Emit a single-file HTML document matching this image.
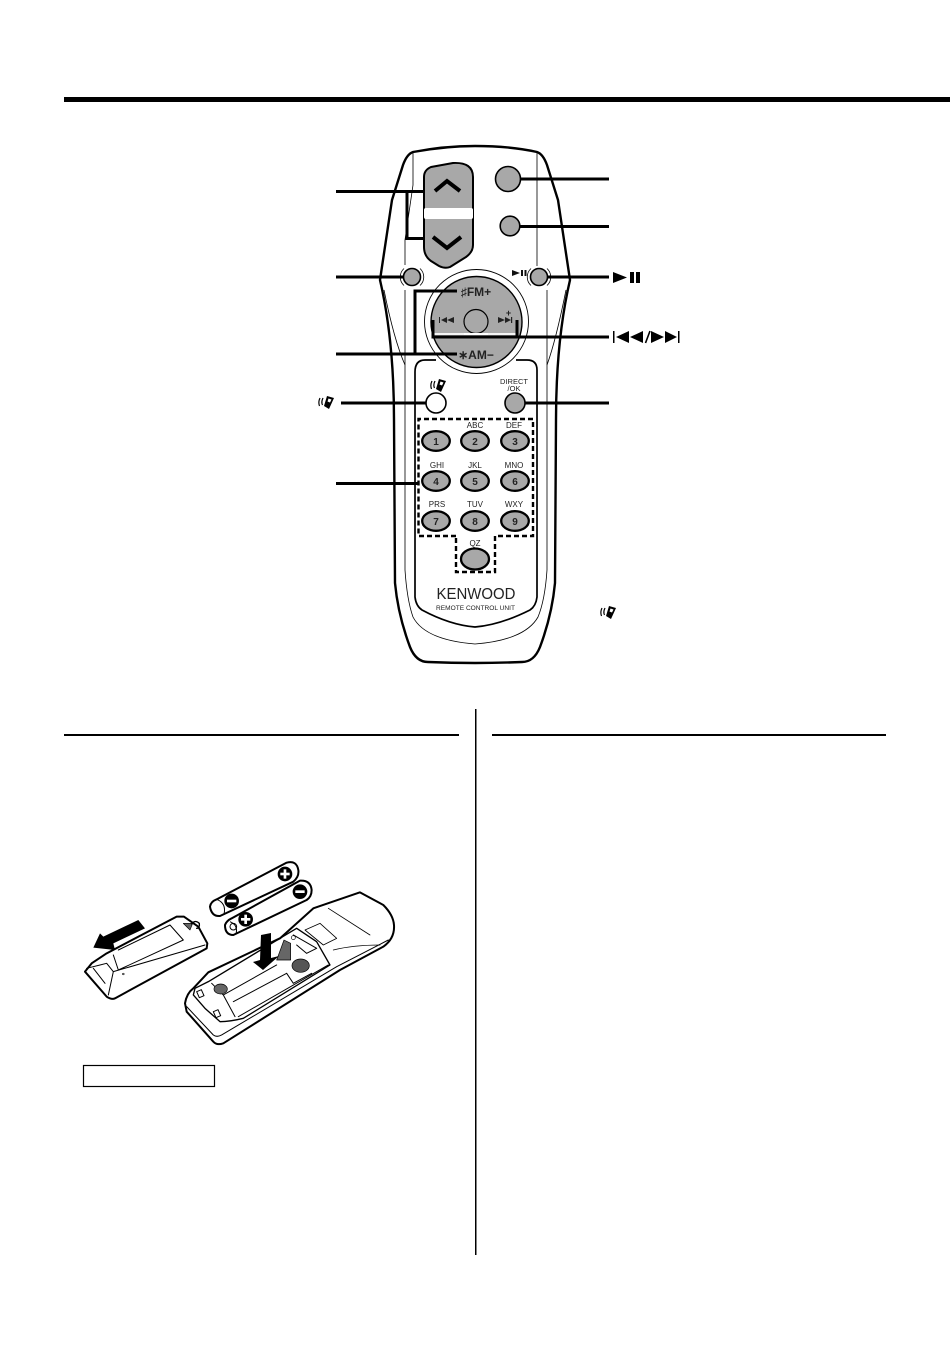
<!DOCTYPE html>
<html><head><meta charset="utf-8"><style>
html,body{margin:0;padding:0;background:#fff}
svg{display:block}
text{font-family:"Liberation Sans",sans-serif;fill:#222}
</style></head><body>
<svg xmlns="http://www.w3.org/2000/svg" width="950" height="1355" viewBox="0 0 950 1355">
<rect width="950" height="1355" fill="#fff"/>
<rect x="64" y="97" width="886" height="5" fill="#000"/>
<rect x="64" y="734" width="395" height="2" fill="#000"/>
<rect x="492" y="734" width="394" height="2" fill="#000"/>
<rect x="475" y="709" width="1.500" height="546" fill="#000"/>
<rect x="83.500" y="1065.500" width="131" height="21" fill="#fff" stroke="#000" stroke-width="1.200"/>

<!-- remote body -->
<g fill="none" stroke="#000">
<path d="M413 152 Q445 146 475 146 Q510 146 537 152 Q543 154 547 165 L558 200 L570 280 Q556 340 556 420 L555 583 Q552 615 540 647 Q534 662 522 662 Q475 664 428 662 Q416 662 410 647 Q398 615 395 583 L394 420 Q394 340 380 280 L392 200 L403 165 Q407 154 413 152Z" fill="#fff" stroke-width="2.400"/>
<path d="M413 153 L413 185 L405 240 L405 265 M537 153 L537 266 M405 290 L405 570 Q407 600 413 617 Q425 640 475 644 Q525 640 538 617 Q545 600 547 570 L547 290" stroke-width=".8"/>
<path d="M384 290 Q394 340 405 365 M566 290 Q556 340 547 365" stroke-width=".8"/>
<path d="M415 372 L415 597 Q416 606 422 610 Q450 625 475 627 Q500 625 530 610 Q536 606 537 597 L537 370 Q537 360 527 360 L516 360 M436 360 L425 360 Q415 360 415 372" stroke-width="1.700"/>
<path d="M404 268.500 A11.500 11.500 0 0 0 404 285.500 M420 268.500 A11.500 11.500 0 0 1 420 285.500 M531 268.500 A11.500 11.500 0 0 0 531 285.500 M547 268.500 A11.500 11.500 0 0 1 547 285.500" stroke-width=".8"/>
</g>

<!-- rocker -->
<path d="M424 177 Q424 170 431 167 L453 163 Q473 162 473 177 L473 245 Q473 252 466 257 L450 267 Q445 269 439 266 L431 261 Q424 256 424 247Z" fill="#a8a8a8" stroke="#000" stroke-width="2" stroke-linejoin="round"/>
<rect x="424" y="208" width="49" height="11" rx="2" fill="#fff"/>
<path d="M435 191 L447 181 L460 191" fill="none" stroke="#000" stroke-width="4"/>
<path d="M433 237 L447 248 L461 237" fill="none" stroke="#000" stroke-width="4"/>

<!-- round buttons -->
<g fill="#a8a8a8" stroke="#000" stroke-width="1.600">
<circle cx="508" cy="179" r="12.500"/>
<circle cx="510" cy="226" r="9.800"/>
<circle cx="412" cy="277" r="8.500"/>
<circle cx="539" cy="277" r="8.500"/>
</g>

<!-- d-pad -->
<circle cx="476.500" cy="321.500" r="52" fill="#fff" stroke="#000" stroke-width=".9"/>
<circle cx="476.500" cy="322" r="45.500" fill="#a8a8a8" stroke="#000" stroke-width="1.400"/>
<path d="M433 334 H518" stroke="#fff" stroke-width="1.800" fill="none"/>
<circle cx="476" cy="321.500" r="12" fill="#a8a8a8" stroke="#000" stroke-width="1.200"/>
<rect x="464" y="333" width="24" height="2" fill="#fff"/>
<text x="476" y="296" text-anchor="middle" font-size="12" font-weight="bold" fill="#111">♯FM+</text>
<text x="476" y="359" text-anchor="middle" font-size="12" font-weight="bold" fill="#111">∗AM−</text>
<path d="M439 317 h1 v6 h-1z M447 317 v6 l-6 -3z M454 317 v6 l-7 -3z" fill="#222"/>
<path d="M498 317 v6 l7 -3z M505 317 v6 l6 -3z M511 317 h1.200 v6 h-1.200z" fill="#222"/>
<text x="508.500" y="316" text-anchor="middle" font-size="9" font-weight="bold">+</text>
<path d="M512 270 v6 l8 -3z" fill="#111"/>
<rect x="521" y="270" width="2" height="6" fill="#111"/>
<rect x="524.500" y="270" width="2" height="6" fill="#111"/>

<!-- leaders -->
<g fill="none" stroke="#000" stroke-width="3">
<path d="M336 191.500 H424 M424 238.500 H407 V191.500"/>
<path d="M336 277 H404"/>
<path d="M336 354 H457 M457 291 H415 V354"/>
<path d="M341 403 H426"/>
<path d="M336 483.500 H418"/>
<path d="M521 179 H609"/>
<path d="M520 226.500 H609"/>
<path d="M547 277 H609"/>
<path d="M433 320 V337 H609 M517 320 V337"/>
<path d="M525 403 H609"/>
</g>

<!-- right glyph labels -->
<path d="M613 272 L627 277.500 L613 283Z M630 272 h4 v11 h-4z M636 272 h4 v11 h-4z" fill="#000"/>
<path d="M613 331 h1.500 v12 h-1.500z M629 331 v12 L616 337z M643 331 v12 L630 337z M651 331 L664 337 L651 343Z M665 331 L677 337 L665 343Z M678 331 h1.500 v12 h-1.500z" fill="#000"/>
<path d="M645.500 343 L650 331" stroke="#000" stroke-width="1.600"/>

<!-- lower buttons -->
<circle cx="436" cy="403" r="10" fill="#fff" stroke="#000" stroke-width="1.600"/>
<circle cx="515" cy="403" r="10" fill="#a8a8a8" stroke="#000" stroke-width="1.600"/>
<text x="514" y="384" text-anchor="middle" font-size="7.500">DIRECT</text>
<text x="514" y="391" text-anchor="middle" font-size="7.500">/OK</text>

<!-- handset icons -->
<g transform="translate(316 395)">
<path d="M11 1 L18 3 L13 14 L8 11Z" fill="#000"/><path d="M12.500 3.500 L15.500 4.500 L14 7.500 L11.500 6.500Z" fill="#fff"/>
<path d="M4 3 Q2 7 3.500 11 M7 3 Q5 7 6.500 10" fill="none" stroke="#000" stroke-width="1.200"/>
</g>
<g transform="translate(428 378)">
<path d="M11 1 L18 3 L13 14 L8 11Z" fill="#000"/><path d="M12.500 3.500 L15.500 4.500 L14 7.500 L11.500 6.500Z" fill="#fff"/>
<path d="M4 3 Q2 7 3.500 11 M7 3 Q5 7 6.500 10" fill="none" stroke="#000" stroke-width="1.200"/>
</g>
<g transform="translate(598 605)">
<path d="M11 1 L18 3 L13 14 L8 11Z" fill="#000"/><path d="M12.500 3.500 L15.500 4.500 L14 7.500 L11.500 6.500Z" fill="#fff"/>
<path d="M4 3 Q2 7 3.500 11 M7 3 Q5 7 6.500 10" fill="none" stroke="#000" stroke-width="1.200"/>
</g>

<!-- dashed -->
<path d="M456 536 H418.500 V419 H533 V536 H495 V572 H456 V536" fill="none" stroke="#000" stroke-width="2.400" stroke-dasharray="5 3"/>

<!-- keypad -->
<g fill="#a8a8a8" stroke="#000" stroke-width="2.300">
<ellipse cx="436" cy="441" rx="13.800" ry="9.800"/><ellipse cx="475" cy="441" rx="13.800" ry="9.800"/><ellipse cx="515" cy="441" rx="13.800" ry="9.800"/>
<ellipse cx="436" cy="481" rx="13.800" ry="9.800"/><ellipse cx="475" cy="481" rx="13.800" ry="9.800"/><ellipse cx="515" cy="481" rx="13.800" ry="9.800"/>
<ellipse cx="436" cy="521" rx="13.800" ry="9.800"/><ellipse cx="475" cy="521" rx="13.800" ry="9.800"/><ellipse cx="515" cy="521" rx="13.800" ry="9.800"/>
<ellipse cx="475" cy="559" rx="14" ry="10.500"/>
</g>
<g font-size="10" font-weight="bold" text-anchor="middle">
<text x="436" y="445">1</text><text x="475" y="445">2</text><text x="515" y="445">3</text>
<text x="436" y="485">4</text><text x="475" y="485">5</text><text x="515" y="485">6</text>
<text x="436" y="525">7</text><text x="475" y="525">8</text><text x="515" y="525">9</text>
</g>
<g font-size="8" text-anchor="middle" fill="#333">
<text x="475" y="428">ABC</text><text x="514" y="428">DEF</text>
<text x="437" y="468">GHI</text><text x="475" y="468">JKL</text><text x="514" y="468">MNO</text>
<text x="437" y="507">PRS</text><text x="475" y="507">TUV</text><text x="514" y="507">WXY</text>
<text x="475" y="546">QZ</text>
</g>
<text x="476" y="599" text-anchor="middle" font-size="15.500" textLength="79" lengthAdjust="spacingAndGlyphs" fill="#111">KENWOOD</text>
<text x="475.500" y="610" text-anchor="middle" font-size="6.800" textLength="79" lengthAdjust="spacingAndGlyphs">REMOTE CONTROL UNIT</text>

<!-- battery illustration: remote -->
<g transform="translate(180 885) scale(.3333)" fill="none" stroke="#000" stroke-width="6" stroke-linejoin="round" stroke-linecap="round">
<path d="M15 355 Q20 325 40 310 L85 262 L300 160 L400 70 L540 22 L610 60 Q640 90 642 120 Q645 160 610 185 L480 255 L130 475 Q110 482 100 470 L20 380Z" fill="#fff"/>
<path d="M20 365 L100 450 Q110 458 125 450 L470 245 L625 165" stroke-width="3"/>
<path d="M45 310 L85 290 L300 160 L350 130 L410 170 L450 240 L190 400 Q150 410 120 410 L75 370 L40 330Z" stroke-width="4"/>
<path d="M95 295 L130 330 L290 240 M130 330 L165 395 M175 395 L445 240 M160 350 L320 265 M320 265 L340 295 L395 265 M340 150 L410 190 L380 205 L350 180" stroke-width="3"/>
<path d="M445 70 L570 150 M375 135 L420 115 L470 160 L430 180Z M460 195 Q520 180 600 180" stroke-width="2.500"/>
<path d="M50 320 l14 -6 l8 18 l-14 6z M100 380 l14 -6 l8 18 l-14 6z" stroke-width="3"/>
<ellipse cx="122" cy="312" rx="20" ry="15" fill="#666" stroke-width="2"/>
<ellipse cx="362" cy="242" rx="26" ry="20" fill="#555" stroke-width="2"/>
<path d="M290 225 L312 165 L332 175 L332 225Z" fill="#666" stroke-width="2"/>
<circle cx="340" cy="158" r="6" stroke-width="2"/>
</g>
<!-- cover -->
<g transform="translate(80 900) scale(.3333)" fill="none" stroke="#000" stroke-width="6" stroke-linejoin="round" stroke-linecap="round">
<path d="M15 215 L35 190 L80 160 L290 50 L312 50 L355 80 L382 130 L380 145 L105 295 Q95 300 80 290Z" fill="#fff"/>
<path d="M80 190 L100 215 L375 135 M100 215 L85 285 M20 205 L60 195 L80 190 M40 205 L75 250 M115 150 L270 75 L310 120 L115 210 L100 165" stroke-width="3"/>
<path d="M310 70 L338 70 L330 90Z" fill="#666" stroke-width="2"/>
<path d="M335 72 Q345 58 358 70 Q360 85 350 85" stroke-width="4"/>
<circle cx="130" cy="222" r="2.500" stroke-width="2"/>
<path d="M40 143 L60 100 L70 110 L175 60 L195 85 L100 130 L105 150Z" fill="#000" stroke="none"/>
</g>
<!-- batteries -->
<g transform="translate(70 850) scale(.3333)" fill="none" stroke="#000" stroke-width="6" stroke-linejoin="round">
<path d="M440 148 L650 38 Q680 30 685 60 Q688 80 670 95 L450 198 Q425 200 420 170 Q422 155 440 148Z" fill="#fff"/>
<path d="M440 148 Q470 160 462 193" stroke-width="3"/>
<path d="M485 205 L690 92 Q722 90 725 120 Q725 140 710 150 L490 255 Q465 255 465 225 Q470 212 485 205Z" fill="#fff"/>
<path d="M480 215 Q505 225 498 252" stroke-width="3"/>
<circle cx="490" cy="230" r="10" stroke-width="3"/>
</g>
<g transform="translate(70 850) scale(.3333)">
<circle cx="485" cy="153" r="22" fill="#000"/><rect x="471" y="149" width="28" height="8" fill="#fff"/>
<circle cx="645" cy="72" r="22" fill="#000"/><rect x="631" y="68" width="28" height="8" fill="#fff"/><rect x="641" y="58" width="8" height="28" fill="#fff"/>
<circle cx="527" cy="208" r="22" fill="#000"/><rect x="513" y="204" width="28" height="8" fill="#fff"/><rect x="523" y="194" width="8" height="28" fill="#fff"/>
<circle cx="690" cy="125" r="22" fill="#000"/><rect x="676" y="121" width="28" height="8" fill="#fff"/>
</g>
<path d="M261 935 L271 933 L271 958 L279 956 L263 970 L253 962 L260 960Z" fill="#000"/>
</svg>
</body></html>
